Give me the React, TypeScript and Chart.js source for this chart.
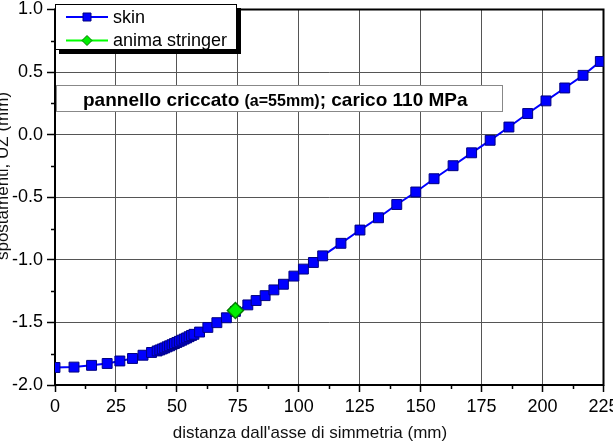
import React, { useEffect, useRef } from 'react';
import { Chart, registerables } from 'chart.js';
Chart.register(...registerables);

const skinX = [0, 7.8, 15, 21.4, 26.6, 31.8, 36.1, 39.6, 41.9, 43, 44, 45, 46, 47, 48, 49, 50, 51, 52, 53, 54, 55, 56, 57, 59.3, 62.7, 66.4, 70.3, 74, 79.1, 82.5, 86.2, 89.8, 93.7, 98, 101.9, 106, 109.8, 117.3, 125.1, 132.7, 140.2, 148, 155.5, 163.3, 170.9, 178.5, 186.2, 193.9, 201.4, 209.1, 216.6, 223.7];
const skinY = [-1.86, -1.857, -1.843, -1.828, -1.808, -1.788, -1.762, -1.74, -1.728, -1.72, -1.712, -1.704, -1.695, -1.687, -1.678, -1.669, -1.66, -1.651, -1.642, -1.633, -1.624, -1.614, -1.604, -1.595, -1.577, -1.54, -1.502, -1.463, -1.412, -1.36, -1.325, -1.286, -1.24, -1.195, -1.13, -1.074, -1.021, -0.968, -0.868, -0.762, -0.664, -0.558, -0.458, -0.352, -0.248, -0.145, -0.045, 0.061, 0.169, 0.27, 0.373, 0.474, 0.585];
const stringerX = [74];
const stringerY = [-1.405];
const seriesNames = ['skin', 'anima stringer'];
const xMin = 0, xMax = 225, xStep = 25;
const yMin = -2, yMax = 1, yStep = 0.5;
const xTitle = "distanza dall'asse di simmetria (mm)";
const yTitle = 'spostamenti, UZ (mm)';
const noteMain = 'pannello criccato ';
const noteSmall = '(a=55mm)';
const noteEnd = '; carico 110 MPa';

const BLUE = '#0000ff';
const BLUE_EDGE = '#000080';
const GREEN = '#00ee00';
const GREEN_EDGE = '#007a00';

function drawMarker(ctx: CanvasRenderingContext2D, kind: string, x: number, y: number, r: number, fill: string, edge: string) {
  ctx.save();
  ctx.beginPath();
  if (kind === 'rect') {
    ctx.rect(x - r, y - r, 2 * r, 2 * r);
  } else {
    ctx.moveTo(x, y - r);
    ctx.lineTo(x + r, y);
    ctx.lineTo(x, y + r);
    ctx.lineTo(x - r, y);
    ctx.closePath();
  }
  ctx.fillStyle = fill;
  ctx.fill();
  ctx.lineWidth = 1;
  ctx.strokeStyle = edge;
  ctx.stroke();
  ctx.restore();
}

const decor = {
  id: 'decor',
  beforeDatasetsDraw(chart: any) {
    const ctx = chart.ctx as CanvasRenderingContext2D;
    const a = chart.chartArea;
    const xs = chart.scales.x;
    const ys = chart.scales.y;
    ctx.save();
    // annotation box
    ctx.fillStyle = '#fff';
    ctx.fillRect(a.left + 1, 85, 447, 27);
    ctx.strokeStyle = '#888';
    ctx.lineWidth = 1;
    ctx.strokeRect(a.left + 1.5, 85.5, 446, 26);
    ctx.fillStyle = '#000';
    ctx.textBaseline = 'alphabetic';
    ctx.textAlign = 'left';
    let tx = 83;
    const ty = 106;
    ctx.font = 'bold 19px Arial, "Liberation Sans", sans-serif';
    ctx.fillText(noteMain, tx, ty);
    tx += ctx.measureText(noteMain).width;
    ctx.font = 'bold 16px Arial, "Liberation Sans", sans-serif';
    ctx.fillText(noteSmall, tx, ty);
    tx += ctx.measureText(noteSmall).width;
    ctx.font = 'bold 19px Arial, "Liberation Sans", sans-serif';
    ctx.fillText(noteEnd, tx, ty);

    // minor ticks
    ctx.strokeStyle = '#000';
    ctx.lineWidth = 1.5;
    ctx.beginPath();
    for (let v = xMin + xStep / 2; v < xMax; v += xStep) {
      const px = Math.round(xs.getPixelForValue(v)) + 0.5;
      ctx.moveTo(px, a.bottom);
      ctx.lineTo(px, a.bottom + 4);
    }
    for (let v = yMin + yStep / 2; v < yMax; v += yStep) {
      const py = Math.round(ys.getPixelForValue(v)) + 0.5;
      ctx.moveTo(a.left, py);
      ctx.lineTo(a.left - 4, py);
    }
    ctx.stroke();
    // frame
    ctx.lineWidth = 2;
    ctx.strokeRect(a.left, a.top, a.right - a.left, a.bottom - a.top);

    // axis titles
    ctx.fillStyle = '#111';
    ctx.font = '17px Arial, "Liberation Sans", sans-serif';
    ctx.textAlign = 'center';
    ctx.textBaseline = 'middle';
    ctx.fillText(xTitle, 310, 433);
    ctx.save();
    ctx.translate(7.5, 176);
    ctx.rotate(-Math.PI / 2);
    ctx.textBaseline = 'alphabetic';
    ctx.fillText(yTitle, 0, 0);
    ctx.restore();
    ctx.restore();
  },
  afterDatasetsDraw(chart: any) {
    const ctx = chart.ctx as CanvasRenderingContext2D;
    ctx.save();
    // legend with shadow
    ctx.fillStyle = '#000';
    ctx.fillRect(59, 8, 182, 46);
    ctx.fillStyle = '#fff';
    ctx.fillRect(55, 4, 182, 46);
    ctx.strokeStyle = '#000';
    ctx.lineWidth = 1;
    ctx.strokeRect(55.5, 4.5, 181, 45);
    const rows = [
      { y: 17, color: BLUE, kind: 'rect', fill: BLUE, edge: BLUE_EDGE, r: 4 },
      { y: 40.5, color: '#00ff00', kind: 'diamond', fill: GREEN, edge: GREEN_EDGE, r: 5 },
    ];
    rows.forEach((row, i) => {
      ctx.strokeStyle = row.color;
      ctx.lineWidth = 2;
      ctx.beginPath();
      ctx.moveTo(66, row.y);
      ctx.lineTo(108, row.y);
      ctx.stroke();
      drawMarker(ctx, row.kind, 87, row.y, row.r, row.fill, row.edge);
      ctx.fillStyle = '#000';
      ctx.font = '18px Arial, "Liberation Sans", sans-serif';
      ctx.textAlign = 'left';
      ctx.textBaseline = 'middle';
      ctx.fillText(seriesNames[i], 113, row.y + 1);
    });
    ctx.restore();
  },
};

export default function App() {
  const ref = useRef<HTMLCanvasElement | null>(null);
  useEffect(() => {
    if (!ref.current) return;
    const tickFont = { family: 'Arial, "Liberation Sans", sans-serif', size: 18 };
    const chart = new Chart(ref.current, {
      type: 'scatter',
      data: {
        datasets: [
          {
            label: seriesNames[0],
            data: skinX.map((x, i) => ({ x, y: skinY[i] })),
            showLine: true,
            borderColor: BLUE,
            borderWidth: 2,
            pointStyle: 'rect',
            pointRadius: 7,
            pointBackgroundColor: BLUE,
            pointBorderColor: BLUE_EDGE,
            pointBorderWidth: 1,
            order: 2,
          },
          {
            label: seriesNames[1],
            data: stringerX.map((x, i) => ({ x, y: stringerY[i] })),
            showLine: false,
            borderColor: GREEN_EDGE,
            backgroundColor: GREEN,
            pointStyle: 'rectRot',
            pointRadius: 8,
            pointBackgroundColor: GREEN,
            pointBorderColor: GREEN_EDGE,
            pointBorderWidth: 1.5,
            order: 1,
          },
        ],
      },
      options: {
        responsive: false,
        animation: false,
        devicePixelRatio: 1,
        layout: { padding: { top: 7, right: 8, left: 0, bottom: 0 } },
        plugins: { legend: { display: false }, tooltip: { enabled: false } },
        scales: {
          x: {
            type: 'linear',
            min: xMin,
            max: xMax,
            ticks: { stepSize: xStep, font: tickFont, color: '#000', padding: 4, maxRotation: 0, autoSkip: false },
            grid: { color: '#555', lineWidth: 1, tickLength: 7, tickColor: '#000', tickWidth: 1.5 },
            border: { display: false },
            afterFit: (s: any) => { s.height = 61; s.paddingLeft = 0; s.paddingRight = 0; s.paddingTop = 0; s.paddingBottom = 0; },
          },
          y: {
            type: 'linear',
            min: yMin,
            max: yMax,
            ticks: { stepSize: yStep, font: tickFont, color: '#000', padding: 4, callback: (v: any) => Number(v).toFixed(1) },
            grid: { color: '#555', lineWidth: 1, tickLength: 8, tickColor: '#000', tickWidth: 1.5 },
            border: { display: false },
            afterFit: (s: any) => { s.width = 55; s.paddingLeft = 0; s.paddingRight = 0; s.paddingTop = 0; s.paddingBottom = 0; },
          },
        },
      } as any,
      plugins: [decor],
    });
    return () => chart.destroy();
  }, []);
  return (
    <div style={{ position: 'absolute', left: 0, top: 0, width: 613, height: 446, background: '#fff' }}>
      <canvas ref={ref} width={613} height={446} style={{ display: 'block' }} />
    </div>
  );
}
